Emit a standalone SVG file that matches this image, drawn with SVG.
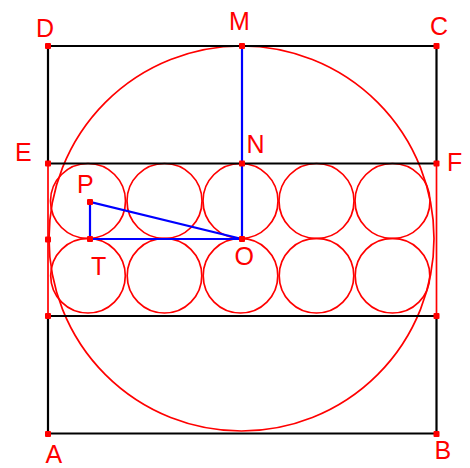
<svg xmlns="http://www.w3.org/2000/svg" width="470" height="468" viewBox="0 0 470 468">
<style>
.blk{stroke:#000;stroke-width:2.2;fill:none}
.red{stroke:#f00;stroke-width:1.7;fill:none}
.blu{stroke:#00f;stroke-width:2.2;fill:none}
.dot{fill:#f00}
text{font-family:"Liberation Sans",Arial,sans-serif;font-size:25px;fill:#f00}
</style>
<rect width="470" height="468" fill="#fff"/>
<g id="circles">
<circle class="red" cx="241.5" cy="238.5" r="192.5"/>
<circle class="red" cx="88" cy="201" r="37.5"/>
<circle class="red" cx="164.5" cy="201" r="37.5"/>
<circle class="red" cx="240.5" cy="201" r="37.5"/>
<circle class="red" cx="316.5" cy="201" r="37.5"/>
<circle class="red" cx="392.5" cy="201" r="37.5"/>
<circle class="red" cx="88" cy="275.7" r="37.3"/>
<circle class="red" cx="164.5" cy="275.7" r="37.3"/>
<circle class="red" cx="240.5" cy="275.7" r="37.3"/>
<circle class="red" cx="316.5" cy="275.7" r="37.3"/>
<circle class="red" cx="392.5" cy="275.7" r="37.3"/>
</g>
<g id="connectors">
<path class="blk" d="M48 163.5V46H436.5V163.5M48 163.5H436.5M48 316H436.5M48 316V433.5H436.5V316"/>
<path class="red" d="M48 163.5V316M436.5 163.5V316"/>
<path class="blu" d="M242 46V239H90V202L242 239"/>
</g>
<g id="points">
<rect class="dot" x="45" y="43" width="6" height="6" rx="1"/>
<rect class="dot" x="433.5" y="43" width="6" height="6" rx="1"/>
<rect class="dot" x="45" y="431" width="6" height="6" rx="1"/>
<rect class="dot" x="433.5" y="431" width="6" height="6" rx="1"/>
<rect class="dot" x="239" y="43" width="6" height="6" rx="1"/>
<rect class="dot" x="239" y="160.5" width="6" height="6" rx="1"/>
<rect class="dot" x="239" y="236" width="6" height="6" rx="1"/>
<rect class="dot" x="45" y="160.5" width="6" height="6" rx="1"/>
<rect class="dot" x="433.5" y="160.5" width="6" height="6" rx="1"/>
<rect class="dot" x="45" y="236.5" width="6" height="6" rx="1"/>
<rect class="dot" x="45" y="313" width="6" height="6" rx="1"/>
<rect class="dot" x="433.5" y="313" width="6" height="6" rx="1"/>
<rect class="dot" x="87" y="199" width="6" height="6" rx="1"/>
<rect class="dot" x="87" y="236" width="6" height="6" rx="1"/>
</g>
<g id="labels">
<text x="36" y="37">D</text>
<text x="229" y="29.5">M</text>
<text x="430" y="35">C</text>
<text x="246.5" y="152.5">N</text>
<text x="447" y="171">F</text>
<text x="15" y="161">E</text>
<text x="77" y="193">P</text>
<text x="91" y="274.5">T</text>
<text x="234.5" y="265">O</text>
<text x="45.5" y="463">A</text>
<text x="434.5" y="459">B</text>
</g>
</svg>
